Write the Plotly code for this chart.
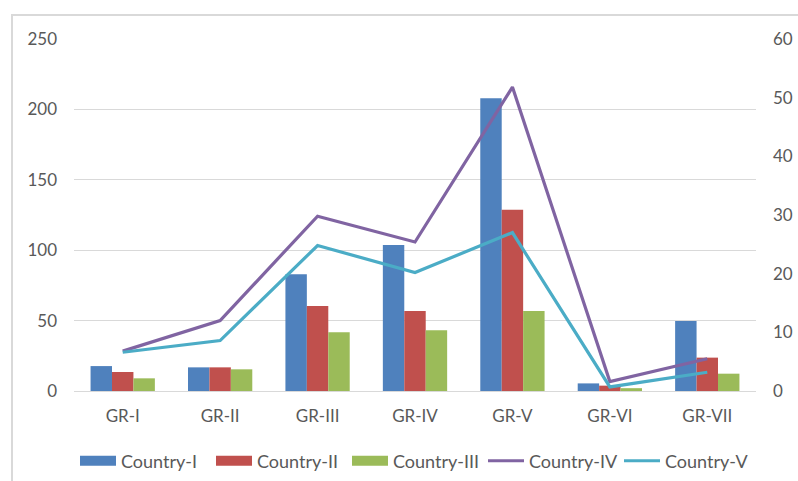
import plotly.graph_objects as go

groups = ["GR-I", "GR-II", "GR-III", "GR-IV", "GR-V", "GR-VI", "GR-VII"]

country_1 = [17.7, 16.8, 83, 103.7, 208, 5.4, 49.7]
country_2 = [13.5, 16.8, 60.4, 56.8, 128.8, 3.8, 23.7]
country_3 = [9, 15.4, 41.7, 43.1, 56.8, 2, 12.3]
country_4 = [6.8, 12.0, 29.8, 25.4, 51.8, 1.6, 5.5]
country_5 = [6.6, 8.6, 24.8, 20.2, 27.0, 0.7, 3.2]

left_ticks = [0, 50, 100, 150, 200, 250]
right_ticks = [0, 10, 20, 30, 40, 50, 60]

FONT = "Lato, Roboto, sans-serif"
TXT = "#595959"
SIZE = 17

bar_series = [("Country-I", country_1, "#4F81BD"),
              ("Country-II", country_2, "#C0504D"),
              ("Country-III", country_3, "#9BBB59")]
line_series = [("Country-IV", country_4, "#8064A2"),
               ("Country-V", country_5, "#4BACC6")]

fig = go.Figure()
for name, vals, col in bar_series:
    fig.add_trace(go.Bar(x=groups, y=vals, name=name, marker_color=col,
                         marker_line_width=0, showlegend=False))
for name, vals, col in line_series:
    fig.add_trace(go.Scatter(x=groups, y=vals, name=name, mode="lines",
                             line=dict(color=col, width=3.2), yaxis="y2",
                             showlegend=False))

# legend keys: wide swatches for the bar series, thin strokes for the lines
for name, _, col in bar_series:
    fig.add_trace(go.Scatter(x=[None], y=[None], name=name, mode="lines",
                             line=dict(color=col, width=10)))
for name, _, col in line_series:
    fig.add_trace(go.Scatter(x=[None], y=[None], name=name, mode="lines",
                             line=dict(color=col, width=3), yaxis="y2"))

fig.update_layout(
    width=798, height=481,
    margin=dict(l=74, r=42, t=39, b=90, autoexpand=False),
    paper_bgcolor="white", plot_bgcolor="white",
    barmode="group", bargap=0.34, bargroupgap=0,
    font=dict(family=FONT, size=SIZE, color=TXT),
    xaxis=dict(showgrid=False, showline=True, linecolor="#d9d9d9", linewidth=1,
               ticks="", ticklabelstandoff=10,
               tickfont=dict(size=SIZE, color=TXT)),
    yaxis=dict(range=[0, 250], tickvals=left_ticks, showgrid=True,
               gridcolor="#d9d9d9", gridwidth=1, zeroline=False, showline=False,
               ticks="", ticklabelstandoff=16, tickfont=dict(size=SIZE, color=TXT)),
    yaxis2=dict(range=[0, 60], tickvals=right_ticks, overlaying="y", side="right",
                showgrid=False, zeroline=False, showline=False, ticks="",
                ticklabelstandoff=16, tickfont=dict(size=SIZE, color=TXT)),
    legend=dict(orientation="h", x=0.5, xanchor="center",
                yref="container", y=20 / 481, yanchor="middle",
                font=dict(size=18, color=TXT), traceorder="normal",
                itemwidth=36, entrywidth=85, entrywidthmode="pixels"),
    shapes=[dict(type="rect", xref="paper", yref="paper",
                 x0=-62 / 682, x1=1.2, y0=-0.5, y1=376 / 352,
                 line=dict(color="#d9d9d9", width=2), layer="below")],
)

fig.write_html("out.html")
